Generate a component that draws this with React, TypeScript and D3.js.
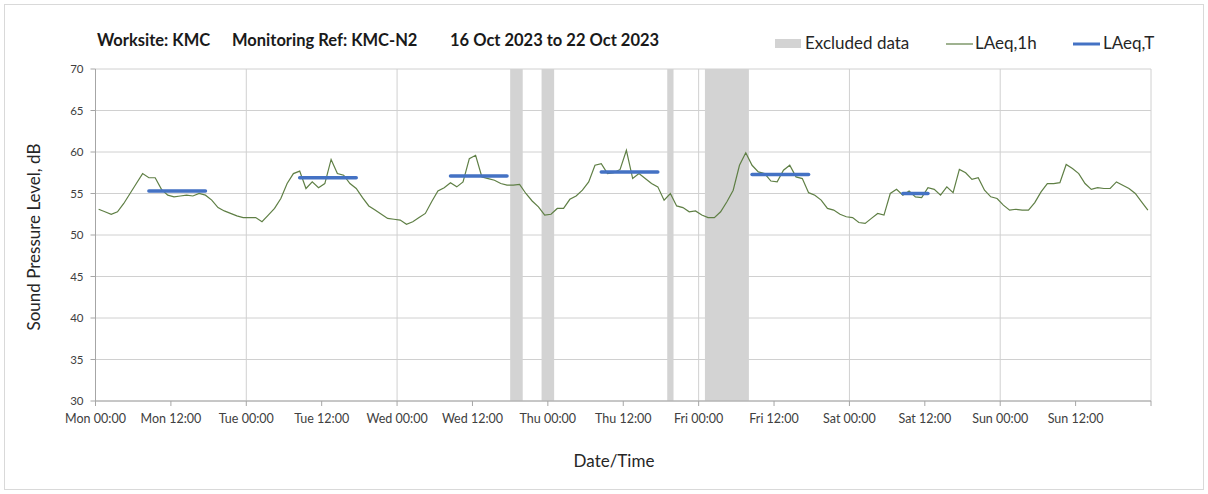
import React from "react";
import * as d3 from "d3";

const laeq1h: number[] = [
  // Mon
  53.1, 52.8, 52.5, 52.8, 53.8, 55.0, 56.2, 57.4, 56.9, 56.9, 55.5, 54.8,
  54.6, 54.7, 54.8, 54.7, 55.0, 54.8, 54.2, 53.3, 52.9, 52.6, 52.3, 52.1,
  // Tue
  52.1, 52.1, 51.6, 52.4, 53.2, 54.4, 56.2, 57.4, 57.7, 55.6, 56.4, 55.7,
  56.2, 59.1, 57.4, 57.2, 56.2, 55.6, 54.5, 53.5, 53.0, 52.5, 52.0, 51.9,
  // Wed
  51.8, 51.3, 51.6, 52.1, 52.6, 54.0, 55.3, 55.7, 56.3, 55.8, 56.4, 59.2,
  59.6, 57.0, 56.8, 56.6, 56.2, 56.0, 56.0, 56.1, 55.0, 54.1, 53.4, 52.4,
  // Thu
  52.5, 53.2, 53.2, 54.3, 54.7, 55.4, 56.4, 58.4, 58.6, 57.4, 57.5, 57.9,
  60.2, 56.8, 57.4, 56.8, 56.2, 55.8, 54.2, 55.0, 53.5, 53.3, 52.8, 52.9,
  // Fri
  52.4, 52.1, 52.1, 52.8, 54.0, 55.4, 58.4, 59.9, 58.4, 57.6, 57.4, 56.5,
  56.4, 57.8, 58.4, 57.0, 56.8, 55.1, 54.8, 54.2, 53.2, 53.0, 52.5, 52.2,
  // Sat
  52.1, 51.5, 51.4, 52.0, 52.6, 52.4, 55.0, 55.5, 54.8, 55.3, 54.6, 54.5,
  55.7, 55.5, 54.8, 55.8, 55.1, 57.9, 57.5, 56.7, 56.9, 55.4, 54.6, 54.4,
  // Sun
  53.6, 53.0, 53.1, 53.0, 53.0, 53.9, 55.2, 56.2, 56.2, 56.3, 58.5, 58.0,
  57.4, 56.2, 55.5, 55.7, 55.6, 55.6, 56.4, 56.0, 55.6, 55.0, 54.0, 53.0,
];

// LAeq,T periods: [start hour, end hour, value]
const laeqTStart: number[] = [8.5, 32.5, 56.5, 80.5, 104.5, 128.5];
const laeqTEnd: number[] = [17.5, 41.5, 65.5, 89.5, 113.5, 132.5];
const laeqTValue: number[] = [55.3, 56.9, 57.1, 57.6, 57.3, 55.0];

// Excluded data periods, hours from Mon 00:00
const excludedStart: number[] = [66, 71, 91, 97];
const excludedEnd: number[] = [68, 73, 92, 104];

const dayNames: string[] = ["Mon", "Tue", "Wed", "Thu", "Fri", "Sat", "Sun"];
const tickHours: number[] = d3.range(0, 169, 12);
const yTicks: number[] = [30, 35, 40, 45, 50, 55, 60, 65, 70];

const W = 1208;
const H = 494;
const left = 95.5;
const right = 1151;
const top = 69;
const bottom = 401;

const FONT = "Lato, 'Open Sans', sans-serif";

export default function App() {
  const x = d3.scaleLinear().domain([0, 168]).range([left, right]);
  const y = d3.scaleLinear().domain([30, 70]).range([bottom, top]);

  const line = d3
    .line<number>()
    .x((_, i) => x(i + 0.5))
    .y((d) => y(d));

  const tickLabel = (h: number) => {
    const day = dayNames[Math.floor(h / 24)];
    const hh = h % 24 === 0 ? "00:00" : "12:00";
    return `${day} ${hh}`;
  };

  return (
    <div style={{ position: "absolute", left: 0, top: 0 }}>
      <svg width={W} height={H} style={{ display: "block", background: "#fff" }}>
        <rect x={4.5} y={4.5} width={W - 9} height={H - 9} fill="#fff" stroke="#d9d9d9" />

        {/* horizontal gridlines */}
        {yTicks.map((t) => (
          <line key={"hg" + t} x1={left} x2={right} y1={y(t)} y2={y(t)} stroke="#d0d0d0" strokeWidth={1} />
        ))}
        {/* vertical gridlines at day starts */}
        {d3.range(24, 169, 24).map((h) => (
          <line key={"vg" + h} x1={x(h)} x2={x(h)} y1={top} y2={bottom} stroke="#d0d0d0" strokeWidth={1} />
        ))}

        {/* excluded bands */}
        {excludedStart.map((s, i) => (
          <rect
            key={"ex" + i}
            x={x(s)}
            y={top}
            width={x(excludedEnd[i]) - x(s)}
            height={bottom - top}
            fill="#d3d3d3"
          />
        ))}

        {/* axes */}
        <line x1={left} x2={left} y1={top} y2={bottom} stroke="#a6a6a6" />
        <line x1={left} x2={right} y1={bottom} y2={bottom} stroke="#a6a6a6" />
        {yTicks.map((t) => (
          <g key={"yt" + t}>
            <line x1={left - 5} x2={left} y1={y(t)} y2={y(t)} stroke="#a6a6a6" />
            <text x={left - 12} y={y(t)} dy="0.35em" textAnchor="end" fontSize={11.5} fill="#404040" fontFamily={FONT}>
              {t}
            </text>
          </g>
        ))}
        {tickHours.map((h) => (
          <g key={"xt" + h}>
            <line x1={x(h)} x2={x(h)} y1={bottom} y2={bottom + 5} stroke="#a6a6a6" />
            {h < 168 && (
              <text x={x(h)} y={423} textAnchor="middle" fontSize={12.5} fill="#404040" fontFamily={FONT}>
                {tickLabel(h)}
              </text>
            )}
          </g>
        ))}

        {/* LAeq,1h line */}
        <path d={line(laeq1h) || ""} fill="none" stroke="#5f7f45" strokeWidth={1.2} />

        {/* LAeq,T */}
        {laeqTStart.map((s, i) => (
          <line
            key={"lt" + i}
            x1={x(s)}
            x2={x(laeqTEnd[i])}
            y1={y(laeqTValue[i])}
            y2={y(laeqTValue[i])}
            stroke="#4472c4"
            strokeWidth={3.5}
            strokeLinecap="round"
          />
        ))}

        {/* axis titles */}
        <text
          transform={`translate(40,${(top + bottom) / 2 + 2}) rotate(-90)`}
          textAnchor="middle"
          fontSize={17}
          fill="#262626"
          fontFamily={FONT}
        >
          Sound Pressure Level, dB
        </text>
        <text x={614} y={467} textAnchor="middle" fontSize={17} fill="#262626" fontFamily={FONT}>
          Date/Time
        </text>

        {/* title */}
        <g fontFamily={FONT} fontWeight="bold" fontSize={16.5} fill="#1a1a1a">
          <text x={97} y={46}>Worksite: KMC</text>
          <text x={232} y={46}>Monitoring Ref: KMC-N2</text>
          <text x={450} y={46}>16 Oct 2023 to 22 Oct 2023</text>
        </g>

        {/* legend */}
        <g fontFamily={FONT} fontSize={17} fill="#262626">
          <rect x={775} y={39} width={26} height={9} fill="#d3d3d3" />
          <text x={805} y={49}>Excluded data</text>
          <line x1={946} x2={973} y1={44} y2={44} stroke="#5f7f45" strokeWidth={1.2} />
          <text x={975} y={49}>LAeq,1h</text>
          <line x1={1073} x2={1100} y1={44} y2={44} stroke="#4472c4" strokeWidth={3} />
          <text x={1103} y={49}>LAeq,T</text>
        </g>
      </svg>
    </div>
  );
}
